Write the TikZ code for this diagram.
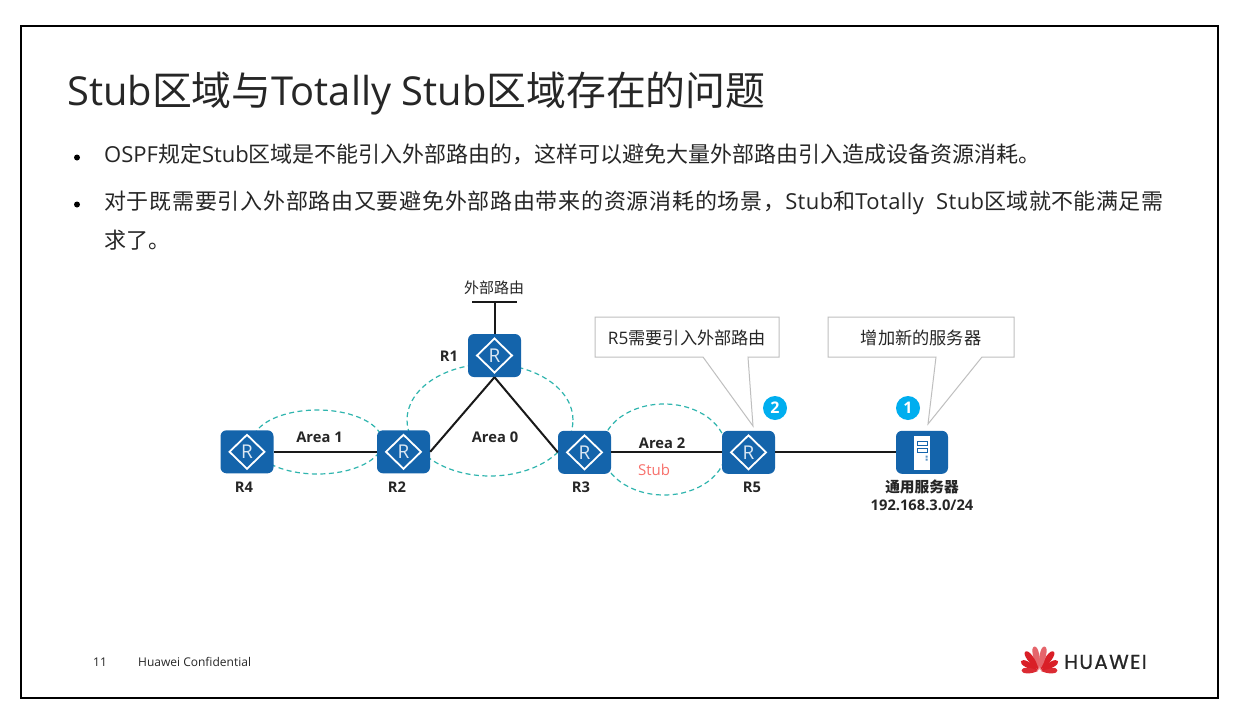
\documentclass[tikz,border=0pt]{standalone}
\usepackage{fontspec}
\setmainfont{Open Sans}
\newfontfamily\cjk{Noto Sans CJK SC}
\newfontfamily\logofont[LetterSpace=7,FakeBold=0.8]{Poppins}
\newfontfamily\cjkwide[LetterSpace=3.3]{Noto Sans CJK SC}
\newfontfamily\cjkmid[LetterSpace=1.9]{Noto Sans CJK SC}
\newfontfamily\latinmid[LetterSpace=1.9]{Open Sans}
\newcommand{\C}[1]{{\cjk #1}}
\usetikzlibrary{shapes.geometric}
\definecolor{hwblue}{HTML}{1464AB}
\definecolor{teal1}{HTML}{2FB5AE}
\definecolor{badge}{HTML}{00AEEF}
\definecolor{txt}{HTML}{262626}
\definecolor{stubred}{HTML}{F8716C}
\definecolor{callgray}{HTML}{BFBFBF}
\definecolor{hwred}{HTML}{D7131C}
\tikzset{
  fs/.style={font=\fontsize{#1}{#1}\selectfont},
  txtnode/.style={inner sep=0pt,text=txt},
  bodyline/.style={txtnode,anchor=base west,fs=22},
  lab/.style={txtnode,font=\fontsize{14.7}{14.7}\selectfont\bfseries},
  router/.style={draw=none,fill=hwblue,rounded corners=6pt,minimum width=53pt,minimum height=43pt,inner sep=0pt,
    text=white!85!hwblue,font=\fontsize{19}{19}\selectfont,
    path picture={\draw[white,line width=1.8pt,line join=miter,sharp corners]
      ([xshift=-17.5pt]path picture bounding box.center) -- ([yshift=17pt]path picture bounding box.center)
      -- ([xshift=17.5pt]path picture bounding box.center) -- ([yshift=-17pt]path picture bounding box.center) -- cycle;}},
  serverbox/.style={draw=none,fill=hwblue,rounded corners=6pt,minimum width=52pt,minimum height=43pt,inner sep=0pt},
  area/.style={ellipse,draw=teal1,line width=1.2pt,dash pattern=on 5pt off 3.5pt,inner sep=0pt},
  link/.style={draw=black!90,line width=2pt},
  callout/.style={draw=callgray,fill=white,line width=1pt,line join=miter},
  calltext/.style={txtnode,fs=17.2},
  badgenode/.style={circle,fill=badge,minimum size=24pt,inner sep=0pt,text=white,font=\fontsize{16}{16}\selectfont\bfseries},
  bullet/.style={circle,fill=black,minimum size=6pt,inner sep=0pt}
}
\begin{document}
\begin{tikzpicture}[x=1pt,y=-1pt]
\useasboundingbox (0,0) rectangle (1235,707);
\fill[white] (0,0) rectangle (1235,707);
\draw[black,line width=2pt] (21,26) rectangle (1218,698);
% title
\node[txtnode,anchor=base west,fs=39.85] (title) at (67,105) {Stub\C{区域与}Totally Stub\C{区域存在的问题}};
% bullets
\node[bullet] (b1) at (77,157.5) {};
\node[bullet] (b2) at (77,204.5) {};
\node[bodyline] (l1) at (104,162) {OSPF\C{规定}Stub\C{区域是不能引入外部路由的，这样可以避免大量外部路由引入造成设备资源消耗。}};
\node[bodyline] (l2) at (104,209) {{\cjkwide 对于既需要引入外部路由又要避免外部路由带来的资源消耗的场景，}{\latinmid Stub}{\cjkmid 和}{\latinmid Totally\hspace{6pt} Stub}{\cjkmid 区域就不能满足需}};
\node[bodyline] (l3) at (104,248) {\C{求了。}};
% areas
\node[area,minimum width=130pt,minimum height=64pt] (a1) at (317.5,442) {};
\node[area,minimum width=166pt,minimum height=112pt] (a0) at (490,420) {};
\node[area,minimum width=124pt,minimum height=91pt] (a2) at (664,449.5) {};
% devices
\node[router] (R1) at (494.5,355.5) {R};
\node[router] (R4) at (247,451.8) {R};
\node[router] (R2) at (403.5,451.8) {R};
\node[router] (R3) at (584.5,452.3) {R};
\node[router] (R5) at (748.5,452.3) {R};
\node[serverbox] (S) at (922,452.3) {};
\fill[white] (914,436) rectangle (930,470);
\foreach \yy in {441,448}{\draw[hwblue,line width=.9pt,fill=white] (917,\yy) rectangle (927.5,\yy+4.5);}
\fill[hwblue!70] (925.5,455.5) rectangle (927.5,457.5) (925.5,458.5) rectangle (927.5,460.5);
% links
\coordinate (ext) at (494.5,302);
\coordinate (extl) at (472,302);
\coordinate (extr) at (517,302);
\draw[link] (R1.north) -- (ext);
\draw[link] (extl) -- (extr);
\draw[link] (R4.east) -- (R2.west);
\draw[link] (R1.south) -- (R2.east);
\draw[link] (R1.south) -- (R3.west);
\draw[link] (R3.east) -- (R5.west);
\draw[link] (R5.east) -- (S.west);
% callouts
\draw[callout] (595,317) -- (779,317) -- (779,357) -- (748,357) -- (753,426) -- (703,357) -- (595,357) -- cycle;
\draw[callout] (828,317) -- (1014,317) -- (1014,357) -- (982,357) -- (928,424) -- (936,357) -- (828,357) -- cycle;
\node[calltext] (c1) at (687,338) {R5\C{需要引入外部路由}};
\node[calltext] (c2) at (921,338) {\C{增加新的服务器}};
\node[badgenode] (n2) at (775,408) {2};
\node[badgenode] (n1) at (908,408) {1};
% labels
\node[txtnode,fs=15] (ext1) at (494,288) {\C{外部路由}};
\node[lab] at (449,356) {R1};
\node[lab] at (244,487) {R4};
\node[lab] at (397,487) {R2};
\node[lab] at (581,487) {R3};
\node[lab] at (752,487) {R5};
\node[lab] at (319.5,437) {Area 1};
\node[lab] at (495,437) {Area 0};
\node[lab] at (662,443) {Area 2};
\node[txtnode,fs=15,text=stubred] at (654,470) {Stub};
\node[lab] at (922,487) {\C{通用服务器}};
\node[lab] at (922,505.5) {192.168.3.0/24};
% footer
\node[txtnode,fs=12] (pg) at (100,662) {11};
\node[txtnode,fs=12,anchor=west] (conf) at (138,662) {Huawei Confidential};
% logo
\foreach \a/\l/\w/\c in {-88/18/3/90,-62/21/3.2/95,-36/24/3.4/95,-12/25/3.4/65,12/25/3.4/65,36/24/3.4/95,62/21/3.2/95,88/18/3/90}{
  \fill[hwred!\c!white,rotate around={\a:(1039.5,671)}] (1039.5,669.5) .. controls +(-\w*1.3,-\l*.4) and +(-\w*1.2,0) .. (1039.5,671-\l) .. controls +(\w*1.2,0) and +(\w*1.3,-\l*.4) .. (1039.5,669.5) -- cycle;
}
\node[txtnode,anchor=west,font=\logofont\fontsize{20}{20}\selectfont,text=black!85] (hw) at (1064,662) {HUAWEI};
\end{tikzpicture}
\end{document}
